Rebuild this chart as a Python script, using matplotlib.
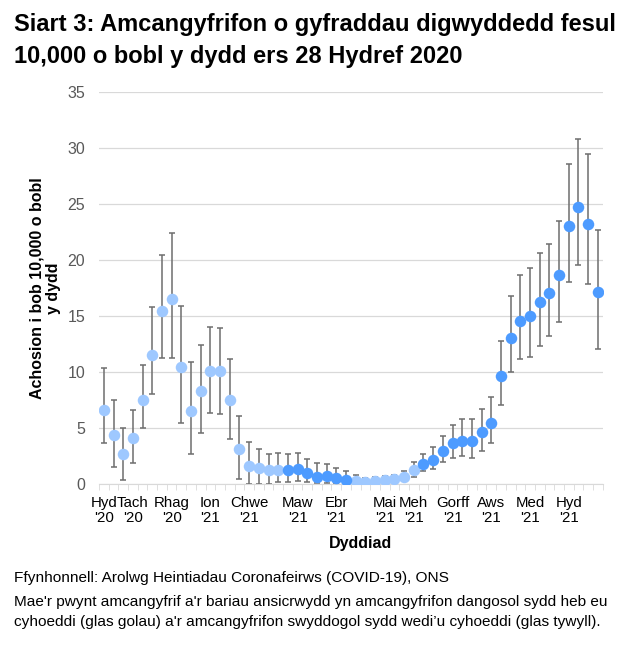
import matplotlib
matplotlib.use("Agg")
import matplotlib.pyplot as plt
import numpy as np

# --- datos ---
est = [6.6, 4.3, 2.6, 4.1, 7.5, 11.5, 15.4, 16.5, 10.4, 6.5, 8.3, 10.1, 10.1, 7.5,
       3.1, 1.6, 1.4, 1.2, 1.2, 1.2, 1.3, 0.9, 0.6, 0.7, 0.45, 0.35, 0.2, 0.1,
       0.2, 0.3, 0.4, 0.6, 1.2, 1.7, 2.1, 2.9, 3.6, 3.8, 3.8, 4.6, 5.4, 9.6,
       13.0, 14.5, 15.0, 16.2, 17.0, 18.6, 23.0, 24.7, 23.2, 17.1]
upper = [10.3, 7.5, 5.0, 6.6, 10.6, 15.8, 20.4, 22.4, 15.85, 10.9, 12.4, 14.0, 13.9, 11.15,
         6.0, 3.7, 3.05, 2.6, 2.7, 2.65, 2.7, 2.2, 1.8, 1.7, 1.35, 1.1, 0.75, 0.5,
         0.6, 0.7, 0.8, 1.1, 1.9, 2.65, 3.3, 4.25, 5.25, 5.8, 5.8, 6.7, 7.7, 12.7,
         16.8, 18.6, 19.3, 20.6, 21.4, 23.5, 28.6, 30.8, 29.5, 22.7]
lower = [3.6, 1.5, 0.35, 1.85, 5.0, 8.0, 11.25, 11.25, 5.4, 2.6, 4.5, 6.3, 6.2, 4.0,
         0.4, 0.0, 0.0, 0.0, 0.15, 0.15, 0.25, 0.1, 0.05, 0.05, 0.0, 0.0, 0.0, 0.0,
         0.0, 0.0, 0.1, 0.2, 0.6, 1.1, 1.3, 1.9, 2.3, 2.5, 2.3, 2.95, 3.6, 7.0,
         10.0, 11.1, 11.3, 12.3, 13.2, 14.4, 18.0, 19.5, 17.8, 12.0]
# 0 = dangosol (glas golau), 1 = swyddogol (glas tywyll)
swyddogol = [0, 0, 0, 0, 0, 0, 0, 0, 0, 0, 0, 0, 0, 0, 0, 0, 0, 0, 0,
             1, 1, 1, 1, 1, 1, 1,
             0, 0, 0, 0, 0, 0, 0,
             1, 1, 1, 1, 1, 1, 1, 1, 1, 1, 1, 1, 1, 1, 1, 1, 1, 1, 1]
label_idx = [0, 3, 7, 11, 15, 20, 24, 29, 32, 36, 40, 44, 48]
label_txt = ["Hyd\n'20", "Tach\n'20", "Rhag\n'20", "Ion\n'21", "Chwe\n'21", "Maw\n'21",
             "Ebr\n'21", "Mai\n'21", "Meh\n'21", "Gorff\n'21", "Aws\n'21", "Med\n'21",
             "Hyd\n'21"]

plt.rcParams['font.family'] = ['Liberation Sans', 'DejaVu Sans']

fig = plt.figure(figsize=(6.44, 6.46), dpi=100)
ax = fig.add_axes([99 / 644, 1 - 483.5 / 646, 503.7 / 644, 391.5 / 646])

x = np.arange(len(est))
est = np.array(est)
err = np.array([est - np.array(lower), np.array(upper) - est])
flag = np.array(swyddogol) == 1

ax.errorbar(x, est, yerr=err, fmt='none', ecolor='#6e6e6e', elinewidth=1.1,
            capsize=2.4, capthick=1.1, zorder=2)
ax.plot(x[~flag], est[~flag], 'o', color='#9ec8ff', markersize=8.3, mec='none', zorder=3)
ax.plot(x[flag], est[flag], 'o', color='#4d9bff', markersize=8.3, mec='none', zorder=3)

ax.set_xlim(-0.5, len(est) - 0.5)
ax.set_ylim(0, 35)
ax.set_yticks(range(0, 36, 5))
ax.yaxis.grid(True, color='#d9d9d9', linewidth=0.9)
ax.set_axisbelow(True)
for s in ['left', 'right', 'top']:
    ax.spines[s].set_visible(False)
ax.spines['bottom'].set_color('#d9d9d9')
ax.tick_params(axis='y', length=0, pad=10, labelsize=11.5, labelcolor='#595959')

ax.set_xticks(label_idx)
ax.set_xticklabels(label_txt, fontsize=10.8, linespacing=1.1)
ax.set_xticks(np.arange(-0.5, len(est)), minor=True)
ax.tick_params(axis='x', which='major', length=0, pad=9)
ax.tick_params(axis='x', which='minor', length=4, color='#d9d9d9', direction='out')

ax.set_xlabel("Dyddiad", fontsize=11.5, fontweight='bold')
ax.xaxis.set_label_coords(0.52, -0.135)
ax.set_ylabel("Achosion i bob 10,000 o bobl\ny dydd", fontsize=11.5, fontweight='bold',
              linespacing=1.15)
ax.yaxis.set_label_coords(-0.075, 0.5)

fig.text(14 / 644, 1 - 31 / 646, "Siart 3: Amcangyfrifon o gyfraddau digwyddedd fesul",
         fontsize=17, fontweight='bold', va='baseline')
fig.text(14 / 644, 1 - 63 / 646, "10,000 o bobl y dydd ers 28 Hydref 2020",
         fontsize=17, fontweight='bold', va='baseline')

foot = dict(fontsize=11.1, va='baseline')
fig.text(14 / 644, 1 - 582 / 646, "Ffynhonnell: Arolwg Heintiadau Coronafeirws (COVID-19), ONS", **foot)
fig.text(14 / 644, 1 - 606 / 646, "Mae'r pwynt amcangyfrif a'r bariau ansicrwydd yn amcangyfrifon dangosol sydd heb eu", **foot)
fig.text(14 / 644, 1 - 626 / 646, "cyhoeddi (glas golau) a'r amcangyfrifon swyddogol sydd wedi\u2019u cyhoeddi (glas tywyll).", **foot)

fig.savefig("out.png", dpi=100)
